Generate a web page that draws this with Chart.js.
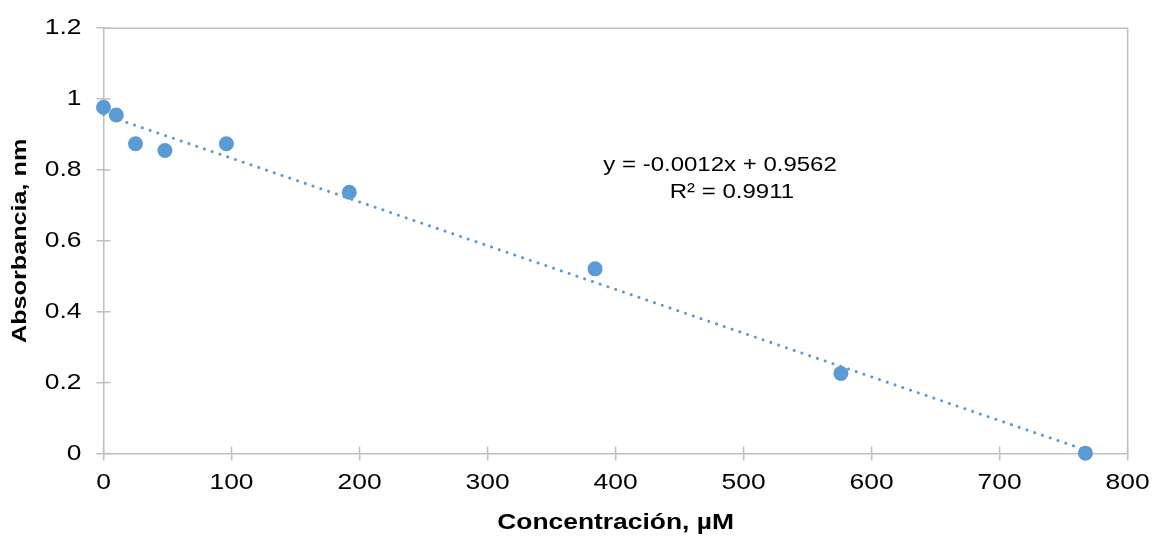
<!DOCTYPE html>
<html>
<head>
<meta charset="utf-8">
<script src="https://cdn.jsdelivr.net/npm/chart.js@4/dist/chart.umd.min.js"></script>
<style>
html,body{margin:0;padding:0;background:#fff;}
#wrap{width:1155px;height:538px;position:relative;}
</style>
</head>
<body>
<div id="wrap"><canvas id="c" width="1155" height="538"></canvas></div>
<script>
const concentrations = [0, 10, 25, 48, 96, 192, 384, 576, 767];
const absorbances = [0.977, 0.955, 0.874, 0.855, 0.874, 0.737, 0.521, 0.226, 0.001];
const xTicks = [0, 100, 200, 300, 400, 500, 600, 700, 800];
const yTicks = [0, 0.2, 0.4, 0.6, 0.8, 1, 1.2];
const equationText = "y = -0.0012x + 0.9562";
const r2Text = "R\u00B2 = 0.9911";
const xTitle = "Concentración, µM";
const yTitle = "Absorbancia, nm";

// linear regression for trendline
const n = concentrations.length;
const mx = concentrations.reduce((a,b)=>a+b,0)/n;
const my = absorbances.reduce((a,b)=>a+b,0)/n;
let sxy=0,sxx=0;
for(let i=0;i<n;i++){sxy+=(concentrations[i]-mx)*(absorbances[i]-my);sxx+=(concentrations[i]-mx)**2;}
const slope = sxy/sxx, intercept = my - slope*mx;
const xMinData = Math.min(...concentrations), xMaxData = Math.max(...concentrations);
const trend = [{x:xMinData,y:intercept+slope*xMinData},{x:xMaxData,y:intercept+slope*xMaxData}];

const axisColor = '#BFBFBF';
const font = "'Liberation Sans', Arial, sans-serif";
const TEXT_STRETCH = 1.2;

const stretchPlugin = {
  id:'stretch',
  beforeInit(chart){
    const ctx = chart.ctx;
    if (ctx.__stretched) return;
    const orig = ctx.fillText;
    ctx.fillText = function(t, x, y, mw){
      this.save();
      this.translate(x, y);
      this.scale(TEXT_STRETCH, 1);
      if (mw !== undefined) orig.call(this, t, 0, 0, mw / TEXT_STRETCH);
      else orig.call(this, t, 0, 0);
      this.restore();
    };
    ctx.__stretched = true;
  }
};

const framePlugin = {
  id:'frame',
  beforeDatasetsDraw(chart){
    const {ctx, chartArea:a, scales} = chart;
    ctx.save();
    ctx.strokeStyle = axisColor; ctx.lineWidth = 1.5;
    ctx.beginPath();
    ctx.moveTo(a.left, a.top); ctx.lineTo(a.right, a.top); ctx.lineTo(a.right, a.bottom);
    ctx.stroke();
    ctx.beginPath();
    xTicks.forEach(v=>{const p=scales.x.getPixelForValue(v); ctx.moveTo(p,a.bottom); ctx.lineTo(p,a.bottom-7);});
    yTicks.forEach(v=>{const p=scales.y.getPixelForValue(v); ctx.moveTo(a.left,p); ctx.lineTo(a.left+7,p);});
    ctx.stroke();
    ctx.restore();
  },
  afterDatasetsDraw(chart){
    const {ctx, chartArea:a} = chart;
    ctx.save();
    ctx.fillStyle = '#000';
    ctx.font = "20px " + font;
    ctx.textAlign = 'center'; ctx.textBaseline = 'middle';
    const w = a.right - a.left, h = a.bottom - a.top;
    ctx.fillText(equationText, a.left + w*0.602, a.top + h*0.322);
    ctx.fillText(r2Text, a.left + w*0.6136, a.top + h*0.387);
    ctx.restore();
  }
};

new Chart(document.getElementById('c'), {
  type:'scatter',
  data:{
    datasets:[
      {
        type:'scatter',
        data: concentrations.map((x,i)=>({x, y:absorbances[i]})),
        backgroundColor:'#5B9BD5', borderColor:'#5B9BD5',
        pointRadius:7.5, pointHoverRadius:7.5, borderWidth:0, order:1, clip:false
      },
      {
        type:'line',
        data: trend,
        borderColor:'#5B9BD5', borderWidth:3, borderDash:[0.1,8.1], borderCapStyle:'round',
        pointRadius:0, fill:false, order:2, tension:0, clip:false
      }
    ]
  },
  options:{
    responsive:false, animation:false,
    layout:{padding:{top:24, right:24, left:0, bottom:0}},
    plugins:{legend:{display:false}, tooltip:{enabled:false}},
    scales:{
      x:{
        type:'linear', min:0, max:800,
        afterBuildTicks(s){ s.ticks = xTicks.map(v=>({value:v})); },
        afterFit(s){ s.height = 84.5; },
        grid:{drawOnChartArea:false, color:axisColor, tickLength:7, lineWidth:1.5},
        border:{color:axisColor, width:1.5},
        ticks:{color:'#000', font:{family:font, size:22}, padding:9, maxRotation:0},
        title:{display:true, text:xTitle, color:'#000', font:{family:font, size:22, weight:'bold'}, padding:{top:0, bottom:2}}
      },
      y:{
        type:'linear', min:0, max:1.2,
        afterBuildTicks(s){ s.ticks = yTicks.map(v=>({value:v})); },
        afterFit(s){ s.width = 103.5; },
        grid:{drawOnChartArea:false, color:axisColor, tickLength:7, lineWidth:1.5},
        border:{color:axisColor, width:1.5},
        ticks:{color:'#000', font:{family:font, size:22}, padding:15, callback:v=>String(+v.toFixed(1))},
        title:{display:true, text:yTitle, color:'#000', font:{family:font, size:21, weight:'bold'}, padding:{top:8, bottom:0}}
      }
    }
  },
  plugins:[stretchPlugin, framePlugin]
});
</script>
</body>
</html>
